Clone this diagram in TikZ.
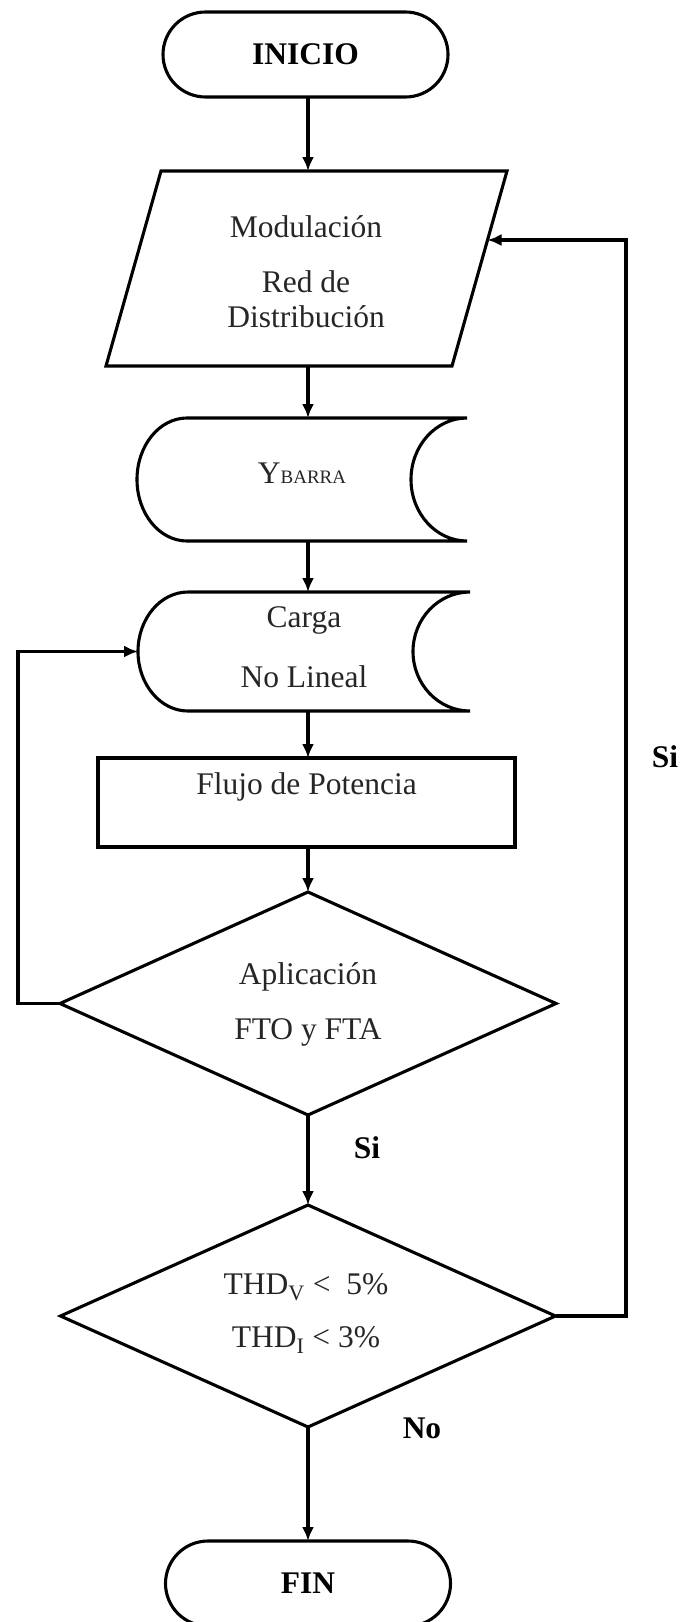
\documentclass[tikz,border=0pt]{standalone}
\usepackage{fontspec}
\setmainfont{Liberation Serif}
\usetikzlibrary{arrows.meta,calc}
\begin{document}
\begin{tikzpicture}[x=1pt,y=-1pt,line width=3.1pt,
  txt/.style={font=\fontsize{31.5}{36}\selectfont, text=black!85, inner sep=0pt},
  btxt/.style={font=\fontsize{31.5}{36}\selectfont\bfseries, inner sep=0pt},
  shapebox/.style={draw=none, inner sep=0pt, outer sep=0pt},
  terminal/.style={draw, rounded corners=42.5pt, minimum width=285pt, minimum height=85pt, inner sep=0pt, outer sep=0pt, font=\fontsize{31.5}{36}\selectfont\bfseries},
  arr/.style={-{Latex[length=14pt,width=12pt]}}]
\useasboundingbox (0,0) rectangle (681,1622);
\coordinate (col) at (308,0);
\coordinate (lc) at (18,0);
\coordinate (rc) at (626,0);

% INICIO
\node[terminal] (ini) at (305.5,54.5) {INICIO};

% parallelogram
\node[shapebox, minimum width=401pt, minimum height=195pt] (par) at (306.5,268.5) {};
\draw ($(par.north west)+(55,0)$) -- (par.north east) -- ($(par.south east)+(-55,0)$) -- (par.south west) -- cycle;
\node[txt] (tmod) at (306,227) {Modulación};
\node[txt] (tred) at (306,282) {Red de};
\node[txt] (tdis) at (306,317) {Distribución};
\coordinate (parR) at (487.5,240);

% YBARRA
\node[shapebox, minimum width=330pt, minimum height=123pt] (yb) at (302,479.5) {};
\draw ($(yb.north west)+(50,0)$) -- (yb.north east)
  arc[start angle=90, end angle=270, x radius=56pt, y radius=61.5pt]
  -- ($(yb.south west)+(50,0)$)
  arc[start angle=270, end angle=90, x radius=50pt, y radius=61.5pt] -- cycle;
\node[txt] (tyb) at (302,473) {Y{\fontsize{19}{20}\selectfont BARRA}};

% Carga
\node[shapebox, minimum width=332pt, minimum height=119pt] (cg) at (304,651.5) {};
\draw ($(cg.north west)+(50,0)$) -- (cg.north east)
  arc[start angle=90, end angle=270, x radius=57pt, y radius=59.5pt]
  -- ($(cg.south west)+(50,0)$)
  arc[start angle=270, end angle=90, x radius=50pt, y radius=59.5pt] -- cycle;
\node[txt] (tcg) at (304,620) {Carga};
\node[txt] (tnl) at (304,677) {No Lineal};

% Flujo
\node[draw, minimum width=417pt, minimum height=89pt, inner sep=0pt, outer sep=0pt] (fp) at (306.5,802.5) {};
\node[txt] (tfp) at (306.5,787) {Flujo de Potencia};

% diamond 1
\node[shapebox, minimum width=496pt, minimum height=223pt] (d1) at (308,1003.5) {};
\draw (d1.north) -- (d1.east) -- (d1.south) -- (d1.west) -- cycle;
\node[txt] (tap) at (308,977) {Aplicación};
\node[txt] (tft) at (308,1032) {FTO y FTA};

% diamond 2
\node[shapebox, minimum width=495pt, minimum height=222pt] (d2) at (308,1316) {};
\draw (d2.north) -- (d2.east) -- (d2.south) -- (d2.west) -- cycle;
\node[txt] (tth1) at (306,1287) {THD\textsubscript{V} <\ \ 5\%};
\node[txt] (tth2) at (306,1340) {THD\textsubscript{I} < 3\%};

% FIN
\node[terminal] (fin) at (308,1583.5) {FIN};

% labels
\node[btxt] (si1) at (367,1148) {Si};
\node[btxt] (si2) at (665,757) {Si};
\node[btxt] (no) at (422,1428) {No};

% connectors
\draw[arr] (ini.south -| col) -- (par.north -| col);
\draw[arr] (par.south -| col) -- (yb.north -| col);
\draw[arr] (yb.south -| col) -- (cg.north -| col);
\draw[arr] (cg.south -| col) -- (fp.north -| col);
\draw[arr] (fp.south -| col) -- (d1.north);
\draw[arr] (d1.south) -- (d2.north);
\draw[arr] (d2.south) -- (fin.north);
\draw[arr] (d1.west) -- (d1.west -| lc) |- (cg.west);
\draw[arr] (d2.east) -- (d2.east -| rc) |- (parR);
\end{tikzpicture}
\end{document}
